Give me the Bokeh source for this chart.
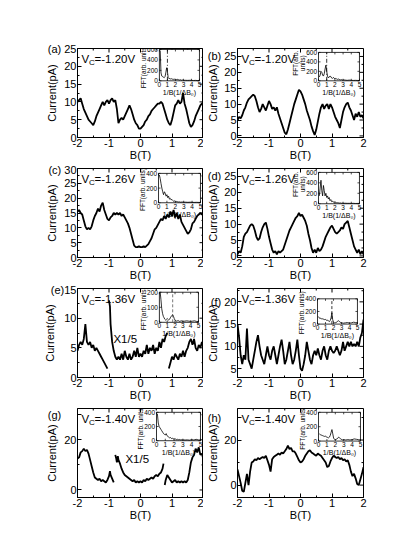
import math
from bokeh.plotting import figure
from bokeh.models import Range1d, FixedTicker, Label
from bokeh.layouts import column, row
from bokeh.embed import file_html
from bokeh.resources import INLINE
from bokeh.core.properties import value

FONT = "Liberation Sans"
NB = "\u00a0"

# ---------------- data ----------------
B = [-2.0, -1.95, -1.9, -1.85, -1.8, -1.75, -1.7, -1.65, -1.6, -1.55,
     -1.5, -1.45, -1.4, -1.35, -1.3, -1.25, -1.2, -1.15, -1.1, -1.05,
     -1.0, -0.95, -0.9, -0.85, -0.8, -0.75, -0.7, -0.65, -0.6, -0.55,
     -0.5, -0.45, -0.4, -0.35, -0.3, -0.25, -0.2, -0.15, -0.1, -0.05,
     0.0, 0.05, 0.1, 0.15, 0.2, 0.25, 0.3, 0.35, 0.4, 0.45,
     0.5, 0.55, 0.6, 0.65, 0.7, 0.75, 0.8, 0.85, 0.9, 0.95,
     1.0, 1.05, 1.1, 1.15, 1.2, 1.25, 1.3, 1.35, 1.4, 1.45,
     1.5, 1.55, 1.6, 1.65, 1.7, 1.75, 1.8, 1.85, 1.9, 1.95, 2.0]

I_a = [10, 10.5, 11, 9.5, 8, 7, 6, 5, 4.5, 4,
       3.5, 4.5, 6, 7, 8, 9, 10, 9, 10, 10.5,
       9.5, 10.5, 11, 10, 10.5, 8, 4, 5, 5.5, 5,
       6, 7, 8, 9, 8, 6.5, 5, 4, 3.5, 2.5,
       2.5, 3, 3.5, 4.5, 5, 6, 6.5, 7.5, 8, 8.5,
       9, 9.5, 9.5, 10, 9.5, 8, 6.5, 5, 4, 3.5,
       5, 7, 9, 9.5, 10.5, 9.5, 10, 12.5, 9.5, 8,
       6, 4, 3, 3.5, 4.5, 6, 7, 8, 9, 9.5, 10]

I_b = [5, 6, 5.5, 6.5, 8, 9, 10.5, 11.5, 12, 12.5,
       13, 12.5, 11, 9, 7.5, 8.5, 10, 9, 8, 9.5,
       11, 10, 8.5, 9, 8, 9, 7, 5.5, 4, 2.5,
       1, 0.5, 2, 4, 6, 8, 10, 11.5, 13, 14.5,
       14, 13, 11.5, 10, 8, 6.5, 5, 3, 1.5, 0.3,
       2, 4.5, 7, 9, 10, 8.5, 9.5, 10, 8.5, 10,
       9, 7.5, 6, 5, 4, 2.5, 5, 7.5, 9, 10,
       10.5, 9, 8, 6.5, 5, 7, 6, 7.5, 6, 6.5, 5.5]

I_c = [15.5, 16, 15, 14.5, 12.5, 10.5, 9.5, 10, 9.5, 10.5,
       12.5, 14, 15, 16.5, 15.5, 17.5, 18.5, 16, 14.5, 13,
       12.5, 13.5, 14, 15, 14.5, 15, 14.5, 15, 14, 14.5,
       13.5, 12.5, 11.5, 10, 8, 6, 4, 3.5, 3.5, 3.8,
       3.5, 3.5, 3.8, 3.5, 4, 4.5, 5.5, 6.5, 8, 9.5,
       10, 11, 12, 13, 12.5, 14, 13, 14.5, 13.5, 15.5,
       14, 16, 13.5, 15, 13, 14.5, 12, 11, 10, 9,
       8, 8.5, 9.5, 11.5, 12, 13, 14, 14.5, 15, 14.5, 15.5]

I_d = [0.5, 1.5, 1, 3, 6, 7, 7.5, 8.5, 9.5, 10,
       9.5, 8, 6, 5, 5.5, 7.5, 9, 10, 10.5, 8.5,
       6, 4, 2, 1, 1.5, 0.5, 1.5, 1, 1.5, 2,
       3.5, 5, 6.5, 8, 9, 10, 11, 12, 12.5, 13.5,
       12.5, 13, 12, 11, 9.5, 7, 5, 2.5, 1, 2,
       1, 2.5, 1.5, 2, 3, 4.5, 6, 7, 8, 9,
       9.5, 8.5, 7.5, 7, 7.5, 8, 9, 8.5, 10, 10.5,
       11, 9, 7, 5, 3, 2, 1, 2, 0.5, 1.5, 0.5]

I_f = [15, 12, 8, 6, 8, 7, 14, 7, 6, 5,
       7, 9, 11, 12.5, 10, 8, 7, 6, 8, 10,
       8, 7, 9, 10, 8, 6, 8, 10, 11.5, 9,
       6, 7, 9, 11, 8, 6, 7, 9, 11.5, 8,
       5, 4.5, 6, 8, 11, 9, 7, 6, 8, 9,
       8, 9.5, 8, 7, 9, 10, 8, 7, 9, 10,
       9, 8.5, 9, 10, 9, 8, 9, 11, 9, 10,
       11, 10, 11, 10, 10.5, 10, 11, 10, 12, 13, 16]

I_h = [7, 4, 1, -2.5, -3, 1, 5, 0, 6, 10,
       10.5, 11.5, 11, 12, 11.5, 12, 12.5, 12, 13, 11,
       9, 6, 11.5, 12.5, 13, 13.5, 14, 13.5, 14.5, 14,
       15, 16, 17.5, 16, 16.5, 15, 15, 14, 12.5, 11,
       10, 10.5, 11.5, 13, 14, 15, 15.5, 14.5, 14, 13.5,
       13, 14, 13.5, 13, 12, 11, 10, 8, 8.5, 10.5,
       12, 13, 12.5, 12, 12.5, 11.5, 12, 11, 11.5, 10.5,
       11, 9, 6, 4, 5, 3, 0.5, 0, 2.5, 5, 8]

# panel (e): three segments, the middle one scaled x1/5
B_e1 = [-2.0, -1.95, -1.9, -1.85, -1.8, -1.75, -1.7, -1.65, -1.6, -1.55,
        -1.5, -1.45, -1.4, -1.35, -1.3, -1.25, -1.2, -1.15, -1.1, -1.05]
I_e1 = [4.5, 5.5, 6, 5.5, 6.5, 9, 6, 5.5, 6, 5,
        5.5, 4.5, 5, 4.5, 4, 3.5, 3, 2.5, 2, 1.5]
B_e2 = [-1.0, -0.97, -0.95, -0.9, -0.85, -0.8, -0.75, -0.7, -0.65, -0.6,
        -0.55, -0.5, -0.45, -0.4, -0.35, -0.3, -0.25, -0.2, -0.15, -0.1,
        -0.05, 0.0, 0.05, 0.1, 0.15, 0.2, 0.25, 0.3, 0.35, 0.4,
        0.45, 0.5, 0.55, 0.6, 0.65, 0.7, 0.75, 0.8, 0.85]
I_e2 = [13, 12, 9, 6, 4.5, 3.5, 3, 3.5, 3, 4,
        3, 4.5, 3.5, 3, 4, 3, 3.5, 4.5, 3.5, 5,
        3.5, 4, 3.5, 4.5, 4, 5.5, 4, 5, 4.5, 5.5,
        4, 5, 4.5, 6, 5, 6.5, 6, 7, 7.5]
B_e3 = [0.9, 0.95, 1.0, 1.05, 1.1, 1.15, 1.2, 1.25, 1.3, 1.35,
        1.4, 1.45, 1.5, 1.55, 1.6, 1.65, 1.7, 1.75, 1.8, 1.85, 1.9, 1.95, 2.0]
I_e3 = [1.5, 2.5, 3.5, 3, 4, 3.5, 3, 4, 3.5, 4.5,
        3.5, 4.5, 5, 6, 6.5, 5.5, 6.5, 5, 4.5, 5.5, 5, 6, 5]

# panel (g): three segments, the middle one scaled x1/5
B_g1 = [-2.0, -1.95, -1.9, -1.85, -1.8, -1.75, -1.7, -1.65, -1.6, -1.55,
        -1.5, -1.45, -1.4, -1.35, -1.3, -1.25, -1.2, -1.15, -1.1, -1.05,
        -1.0, -0.97, -0.95, -0.9, -0.85]
I_g1 = [12.5, 13, 15, 15.5, 16.5, 15.5, 16, 14.5, 12, 9.5,
        7, 5, 4.5, 4, 4.5, 3.5, 4, 3.5, 3, 4,
        5.5, 7.5, 6, 4.5, 3]
B_g2 = [-0.8, -0.77, -0.75, -0.72, -0.7, -0.65, -0.6, -0.55, -0.5, -0.45,
        -0.4, -0.35, -0.3, -0.25, -0.2, -0.15, -0.1, -0.05, 0.0, 0.05,
        0.1, 0.15, 0.2, 0.25, 0.3, 0.35, 0.4, 0.45, 0.5, 0.55,
        0.6, 0.65, 0.7, 0.73]
I_g2 = [14, 12.5, 11, 13.5, 12, 10.5, 8.5, 7, 6, 5.5,
        5, 4.5, 4, 3.5, 4, 3, 3.5, 3, 3.5, 3,
        4, 3.5, 4.5, 4, 4.5, 5, 4.5, 5.5, 6, 5.5,
        6.5, 7, 8.5, 10.5]
B_g3 = [0.77, 0.8, 0.85, 0.9, 0.95, 1.0, 1.05, 1.1, 1.15, 1.2,
        1.25, 1.3, 1.35, 1.4, 1.45, 1.5, 1.55, 1.6, 1.65, 1.7,
        1.75, 1.8, 1.85, 1.9, 1.95, 2.0]
I_g3 = [2, 4, 6, 5, 4, 3, 3.5, 4, 3, 3.5,
        3, 3.5, 3, 3.5, 3, 4, 7, 11, 13, 14,
        16.5, 15, 17, 14, 14.5, 12]

# FFT insets
FFT_X = [0.1, 0.2, 0.3, 0.4, 0.5, 0.6, 0.7, 0.8, 0.9, 1.0,
         1.1, 1.2, 1.3, 1.4, 1.5, 1.6, 1.7, 1.8, 1.9, 2.0,
         2.1, 2.2, 2.3, 2.4, 2.5, 2.6, 2.7, 2.8, 2.9, 3.0,
         3.25, 3.5, 3.75, 4.0, 4.25, 4.5, 4.75, 5.0]
FFT_a = [580, 150, 90, 80, 70, 60, 80, 150, 250, 180,
         60, 40, 45, 35, 40, 30, 35, 25, 30, 20,
         25, 20, 30, 20, 15, 20, 15, 10, 15, 10,
         10, 8, 10, 8, 6, 8, 5, 6]
FFT_b = [80, 120, 200, 180, 120, 100, 150, 250, 330, 200,
         100, 60, 80, 100, 90, 60, 50, 70, 60, 40,
         50, 40, 30, 40, 30, 25, 20, 25, 15, 20,
         15, 10, 15, 10, 8, 10, 8, 5]
FFT_c = [380, 330, 260, 200, 150, 110, 150, 130, 90, 110,
         70, 90, 50, 60, 40, 45, 30, 20, 25, 15,
         20, 10, 15, 10, 12, 8, 10, 8, 10, 8,
         8, 6, 8, 6, 5, 6, 5, 4]
FFT_d = [150, 300, 450, 250, 150, 350, 250, 150, 200, 120,
         150, 90, 120, 60, 80, 40, 50, 30, 40, 25,
         30, 20, 20, 15, 20, 10, 15, 10, 12, 8,
         10, 8, 8, 6, 8, 5, 6, 5]
FFT_e = [200, 150, 90, 60, 40, 30, 20, 15, 20, 25,
         20, 15, 20, 30, 40, 45, 50, 40, 25, 15,
         10, 8, 10, 12, 8, 6, 8, 10, 8, 6,
         8, 10, 8, 6, 8, 10, 6, 5]
FFT_f = [120, 100, 90, 95, 80, 85, 75, 80, 70, 75,
         60, 65, 55, 50, 40, 60, 100, 180, 70, 30,
         20, 25, 20, 30, 45, 55, 45, 35, 25, 20,
         15, 20, 25, 15, 20, 30, 25, 20]
FFT_g = [380, 250, 200, 180, 160, 140, 120, 100, 90, 80,
         100, 70, 60, 50, 40, 45, 30, 35, 25, 30,
         20, 25, 15, 20, 15, 18, 12, 15, 10, 12,
         10, 12, 8, 15, 10, 20, 12, 10]
FFT_h = [100, 90, 85, 80, 75, 70, 65, 70, 60, 55,
         50, 45, 55, 80, 120, 160, 100, 40, 25, 20,
         25, 30, 40, 55, 45, 35, 25, 20, 15, 20,
         15, 20, 15, 20, 30, 25, 20, 15]

LETTERS = ["(a)", "(b)", "(c)", "(d)", "(e)", "(f)", "(g)", "(h)"]
VC = ["=-1.20V", "=-1.20V", "=-1.26V", "=-1.26V", "=-1.36V", "=-1.36V", "=-1.40V", "=-1.40V"]
Y_RANGES = [(0, 25), (-0.5, 27.5), (0, 30), (-0.5, 27.5), (0, 15), (3, 23), (-3, 32.5), (-5.5, 34)]
Y_TICKS = [[0, 5, 10, 15, 20, 25], [0, 5, 10, 15, 20, 25], [0, 5, 10, 15, 20, 25, 30],
           [0, 5, 10, 15, 20, 25], [0, 5, 10, 15], [5, 10, 15, 20], [0, 20], [0, 20]]
LETTER_TICK = [25, 25, 30, 25, 15, 20, 30, 30]
LETTER_PAD = [1, 1, 1, 1, 0, 1, 5, 5]
YLABEL_STANDOFF = [-13, -14, -13, -14, -8, -11, -13, -14]
X_TICKS = [-2, -1, 0, 1, 2]
FFT_TICKS = [[0, 200, 400, 600], [0, 200, 400, 600], [0, 200, 400], [0, 200, 400, 600],
             [0, 100, 200], [0, 200, 400], [0, 200, 400], [0, 200, 400]]
FFT_LABELS = ["FFT(arb. units)", "FFT(arb.\nunits)", "FFT(arb. units)", "FFT(arb.\nunits)",
              "FFT(arb. units)", "FFT(arb. units)", "FFT(arb. units)", "FFT(arb. units)"]
FFT_MARK = [1.0, 1.0, None, None, 1.7, 1.8, None, None]
SCALE_TEXT = "X1/5"

# ---------------- layout / style ----------------
FW, FH = 126, 89
INSETS = [(0.65, 0.968, 0.637, 0.989), (0.643, 0.968, 0.637, 0.956),
          (0.643, 0.976, 0.615, 0.945), (0.643, 0.968, 0.604, 0.956),
          (0.65, 0.96, 0.62, 0.958), (0.635, 0.952, 0.60, 0.884),
          (0.627, 0.976, 0.638, 0.957), (0.643, 0.976, 0.634, 0.957)]


def style_axis(ax, ticks, minor, overrides, label_standoff):
    ax.ticker = FixedTicker(ticks=ticks, minor_ticks=minor)
    ax.major_tick_in = 4
    ax.major_tick_out = 0
    ax.minor_tick_in = 2
    ax.minor_tick_out = 0
    ax.axis_line_color = "black"
    ax.major_tick_line_color = "black"
    ax.minor_tick_line_color = "black"
    ax.major_label_text_font = FONT
    ax.major_label_text_color = "black"
    ax.major_label_text_font_size = "11px"
    ax.major_label_standoff = 1
    ax.axis_label_text_font = FONT
    ax.axis_label_text_font_size = "11px"
    ax.axis_label_text_font_style = "normal"
    ax.axis_label_text_color = "black"
    ax.axis_label_standoff = label_standoff
    ax.major_label_overrides = overrides


def minors(ticks, yr):
    step = ticks[1] - ticks[0]
    if len(ticks) == 2:
        step = 20
    out = []
    v = ticks[0] - step / 2
    while v <= yr[1]:
        if v >= yr[0]:
            out.append(v)
        v += step
    return out


def make_panel(k, b_segs, i_segs, fft, left_col, top_border):
    yr = Y_RANGES[k]
    bl = 77 if left_col else 29
    br = 0 if left_col else 4
    p = figure(frame_width=FW, frame_height=FH, x_range=Range1d(-2, 2), y_range=Range1d(*yr),
               min_border_left=bl, min_border_right=br, min_border_top=top_border,
               min_border_bottom=20, output_backend="svg", toolbar_location=None,
               x_axis_label="B(T)", y_axis_label="Current(pA)")
    p.grid.visible = False
    p.outline_line_color = "black"
    xminor = [-1.5, -0.5, 0.5, 1.5]
    yminor = minors(Y_TICKS[k], yr)
    style_axis(p.xaxis[0], X_TICKS, xminor, {t: str(t) for t in X_TICKS}, -1)
    yt_all = sorted(set(Y_TICKS[k] + [LETTER_TICK[k]]))
    ov = {t: str(t) for t in yt_all}
    lt = LETTER_TICK[k]
    ov[lt] = LETTERS[k] + NB * LETTER_PAD[k] + (str(lt) if lt in Y_TICKS[k] else "")
    style_axis(p.yaxis[0], yt_all, [m for m in yminor if m not in yt_all], ov,
               YLABEL_STANDOFF[k])

    # inward ticks on the top and right edges of the box
    dy = (yr[1] - yr[0]) / FH
    dx = 4.0 / FW
    p.segment(x0=X_TICKS, y0=[yr[1]] * 5, x1=X_TICKS, y1=[yr[1] - 4 * dy] * 5,
              line_color="black", line_width=1)
    p.segment(x0=xminor, y0=[yr[1]] * 4, x1=xminor, y1=[yr[1] - 2 * dy] * 4,
              line_color="black", line_width=1)
    ry = Y_TICKS[k]
    p.segment(x0=[2] * len(ry), y0=ry, x1=[2 - 4 * dx] * len(ry), y1=ry,
              line_color="black", line_width=1)
    p.segment(x0=[2] * len(yminor), y0=yminor, x1=[2 - 2 * dx] * len(yminor), y1=yminor,
              line_color="black", line_width=1)

    for bs, cs in zip(b_segs, i_segs):
        p.line(bs, cs, line_color="black", line_width=1.8)

    # inset (FFT), drawn through its own extra ranges
    fx0, fx1, fy0, fy1 = INSETS[k]
    fmax = FFT_TICKS[k][-1]
    sx = 5.0 / (fx1 - fx0)
    sy = fmax / (fy1 - fy0)
    xs0 = -fx0 * sx
    ys0 = -fy0 * sy
    p.extra_x_ranges = {"ix": Range1d(xs0, xs0 + sx)}
    p.extra_y_ranges = {"iy": Range1d(ys0, ys0 + sy)}
    kw = dict(x_range_name="ix", y_range_name="iy")
    p.quad(left=[0], right=[5], bottom=[0], top=[fmax], fill_color="white",
           line_color="black", line_width=0.8, **kw)
    if FFT_MARK[k] is not None:
        dash = "4 2 1 2" if FFT_MARK[k] == 1.0 else "3 2"
        col = "#555555" if k == 4 else "black"
        p.segment(x0=[FFT_MARK[k]], y0=[0], x1=[FFT_MARK[k]], y1=[fmax],
                  line_color=col, line_dash=dash, line_width=0.8, **kw)
    p.line(FFT_X, fft, line_color="black", line_width=0.8, **kw)
    tx = sx * 2.0 / FW
    ty = sy * 2.0 / FH
    xt = [0, 1, 2, 3, 4, 5]
    p.segment(x0=xt, y0=[0] * 6, x1=xt, y1=[ty] * 6, line_color="black", line_width=0.7, **kw)
    p.segment(x0=xt, y0=[fmax] * 6, x1=xt, y1=[fmax - ty] * 6, line_color="black", line_width=0.7, **kw)
    yt = FFT_TICKS[k]
    p.segment(x0=[0] * len(yt), y0=yt, x1=[tx] * len(yt), y1=yt, line_color="black", line_width=0.7, **kw)
    p.segment(x0=[5] * len(yt), y0=yt, x1=[5 - tx] * len(yt), y1=yt, line_color="black", line_width=0.7, **kw)
    tfont = value(FONT)
    p.text(x=xt, y=[0] * 6, text=[str(v) for v in xt], text_font=tfont,
           text_font_size=value("6.5px"), text_align="center", text_baseline="top",
           y_offset=1, text_color="black", **kw)
    p.text(x=[0] * len(yt), y=yt, text=[str(v) for v in yt], text_font=tfont,
           text_font_size=value("6.5px"), text_align="right", text_baseline="middle",
           x_offset=-1.5, text_color="black", **kw)
    p.text(x=[2.5], y=[0], text=["1/B(1/\u0394B\u2080)"], text_font=tfont,
           text_font_size=value("7px"), text_align="center", text_baseline="top",
           y_offset=8, text_color="black", **kw)
    two = "\n" in FFT_LABELS[k]
    p.text(x=[0], y=[fmax * (0.62 if two else 0.45)], text=[FFT_LABELS[k]], text_font=tfont,
           text_font_size=value("6.5px"), text_align="center", text_baseline="middle",
           angle=math.pi / 2, x_offset=(-20 if two else -16), text_color="black",
           text_line_height=1.0, **kw)

    # gate voltage label  V_C = ...
    p.add_layout(Label(x=4, y=FH - 4, x_units="screen", y_units="screen", text="V",
                       text_font=FONT, text_font_size="11.5px", text_baseline="top",
                       text_color="black"))
    p.add_layout(Label(x=11.5, y=FH - 9, x_units="screen", y_units="screen", text="C",
                       text_font=FONT, text_font_size="8px", text_baseline="top",
                       text_color="black"))
    p.add_layout(Label(x=17, y=FH - 4, x_units="screen", y_units="screen", text=VC[k],
                       text_font=FONT, text_font_size="11.5px", text_baseline="top",
                       text_color="black"))
    return p


pa = make_panel(0, [B], [I_a], FFT_a, True, 48)
pb = make_panel(1, [B], [I_b], FFT_b, False, 48)
pc = make_panel(2, [B], [I_c], FFT_c, True, 5)
pd = make_panel(3, [B], [I_d], FFT_d, False, 5)
pe = make_panel(4, [B_e1, B_e2, B_e3], [I_e1, I_e2, I_e3], FFT_e, True, 5)
pf = make_panel(5, [B], [I_f], FFT_f, False, 5)
pg = make_panel(6, [B_g1, B_g2, B_g3], [I_g1, I_g2, I_g3], FFT_g, True, 5)
ph = make_panel(7, [B], [I_h], FFT_h, False, 5)

pe.add_layout(Label(x=-0.86, y=5.4, text=SCALE_TEXT, text_font=FONT, text_font_size="11.5px",
                    text_color="black"))
pg.add_layout(Label(x=-0.48, y=9.8, text=SCALE_TEXT, text_font=FONT, text_font_size="11.5px",
                    text_color="black"))

layout = column(row(pa, pb), row(pc, pd), row(pe, pf), row(pg, ph))
open("out.html", "w").write(file_html(layout, INLINE))
